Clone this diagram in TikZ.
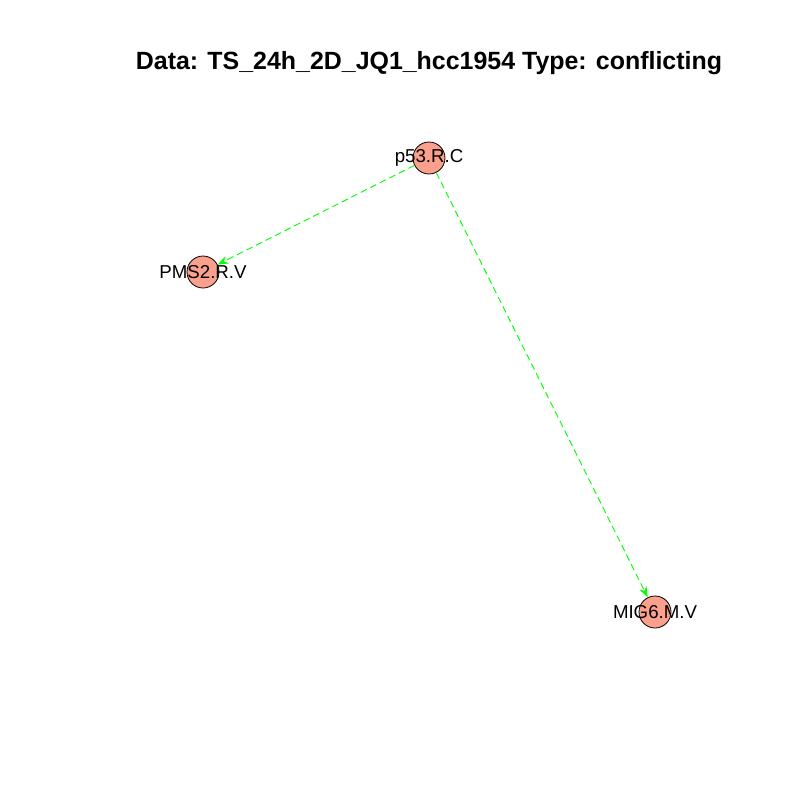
\documentclass[tikz,border=0pt]{standalone}
\usepackage{fontspec}
\setmainfont{Liberation Sans}
\usetikzlibrary{arrows.meta}
\definecolor{nodefill}{RGB}{250,160,140}
\definecolor{edgegreen}{RGB}{0,255,0}
\begin{document}
\begin{tikzpicture}[x=0.75pt,y=-0.75pt,
  vert/.style={circle,draw=black,fill=nodefill,line width=0.6pt,minimum size=24pt,inner sep=0pt},
  lab/.style={font=\fontsize{14}{16}\selectfont,inner sep=0pt},
  edge/.style={draw=edgegreen,dashed,dash pattern=on 5pt off 3pt,line width=0.7pt,-{Stealth[length=8pt,width=6pt]}}]
\useasboundingbox (0,0) rectangle (800,800);
\node[font=\fontsize{18.7}{22}\selectfont\bfseries] (title) at (429,63) {Data: TS\_24h\_2D\_JQ1\_hcc1954 Type: conflicting};
\node[vert] (p53) at (429,158) {};
\node[vert] (pms2) at (203,272) {};
\node[vert] (mig6) at (655,612) {};
\draw[edge] (p53) -- (pms2);
\draw[edge] (p53) -- (mig6);
\node[lab] (p53l) at (429,158) {p53.R.C};
\node[lab] (pms2l) at (203,272) {PMS2.R.V};
\node[lab] (mig6l) at (655,612) {MIG6.M.V};
\end{tikzpicture}
\end{document}
